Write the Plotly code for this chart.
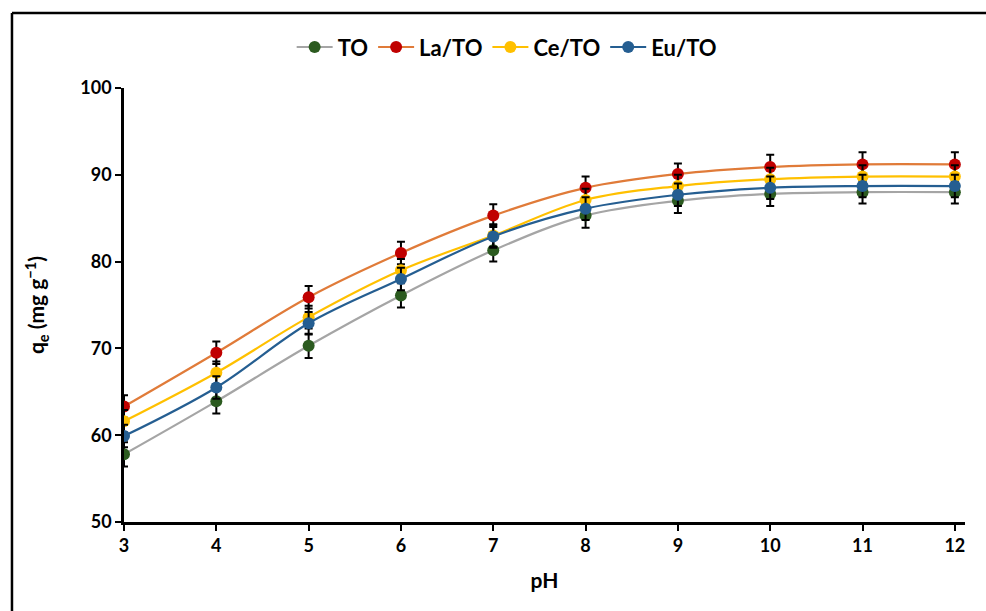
import plotly.graph_objects as go

# pH values and adsorption capacities (mg/g)
ph = [3, 4, 5, 6, 7, 8, 9, 10, 11, 12]
qe_to = [57.8, 63.9, 70.3, 76.1, 81.3, 85.3, 87.0, 87.8, 88.0, 88.0]
qe_la = [63.3, 69.5, 75.9, 81.0, 85.3, 88.5, 90.1, 90.9, 91.2, 91.2]
qe_ce = [61.6, 67.2, 73.6, 79.0, 83.0, 87.1, 88.7, 89.5, 89.8, 89.8]
qe_eu = [59.9, 65.5, 72.9, 78.0, 82.9, 86.1, 87.7, 88.5, 88.7, 88.7]
err_to = [1.4, 1.4, 1.4, 1.4, 1.3, 1.4, 1.4, 1.4, 1.3, 1.3]
err_la = [1.3, 1.3, 1.3, 1.3, 1.3, 1.3, 1.2, 1.4, 1.4, 1.4]
err_ce = [1.3, 1.3, 1.3, 1.3, 1.3, 1.3, 1.3, 1.3, 1.3, 1.3]
err_eu = [1.3, 1.3, 1.3, 1.3, 1.3, 1.3, 1.3, 1.3, 1.3, 1.3]

series = [
    ("TO", qe_to, err_to, "#A5A5A5", "#2B5A1F"),
    ("La/TO", qe_la, err_la, "#E07B39", "#C00000"),
    ("Ce/TO", qe_ce, err_ce, "#FFC000", "#FFC000"),
    ("Eu/TO", qe_eu, err_eu, "#255E91", "#255E91"),
]

FONT = "Lato"

fig = go.Figure()
for name, y, e, lc, mc in series:
    fig.add_trace(go.Scatter(
        x=ph, y=y, name=name, mode="lines+markers",
        line=dict(color=lc, width=2.2, shape="spline", smoothing=1.0),
        marker=dict(color=mc, size=12, line=dict(color=mc, width=0)),
        error_y=dict(type="data", array=e, visible=True,
                     color="black", thickness=2, width=4),
    ))

fig.update_layout(
    width=986, height=611,
    paper_bgcolor="white", plot_bgcolor="white",
    margin=dict(l=124, r=21, t=88, b=89),
    font=dict(family=FONT, size=18, color="black"),
    legend=dict(orientation="h", x=0.455, xanchor="center", y=1.094, yanchor="middle",
                font=dict(family=FONT, size=22, color="black", weight="bold"),
                itemwidth=36, tracegroupgap=0, bgcolor="rgba(0,0,0,0)"),
    showlegend=True,
)

fig.update_xaxes(
    range=[3, 12.11], tickmode="array", tickvals=ph, ticktext=[str(v) for v in ph],
    showgrid=False, zeroline=False, showline=True, linecolor="black", linewidth=2.5,
    ticks="outside", ticklen=6, tickwidth=2, tickcolor="black",
    tickfont=dict(family=FONT, size=18, weight="bold"),
    title=dict(text="pH", font=dict(family=FONT, size=21, weight="bold"), standoff=18),
)
fig.update_yaxes(
    range=[50, 100], tickvals=[50, 60, 70, 80, 90, 100],
    showgrid=False, zeroline=False, showline=True, linecolor="black", linewidth=2.5,
    ticks="outside", ticklen=6, tickwidth=2, tickcolor="black",
    tickfont=dict(family=FONT, size=18, weight="bold"),
    title=dict(text="q<sub>e</sub> (mg g<sup>−1</sup>)",
               font=dict(family=FONT, size=21, weight="bold"), standoff=30),
)

# Frame lines along the left and top edges of the figure
fig.add_shape(type="line", xref="paper", yref="paper",
              x0=-0.1332, x1=1.1, y0=1.1728, y1=1.1728,
              line=dict(color="black", width=2.5))
fig.add_shape(type="line", xref="paper", yref="paper",
              x0=-0.1332, x1=-0.1332, y0=1.1728, y1=-0.3,
              line=dict(color="black", width=2.5))

fig.write_html("out.html")
